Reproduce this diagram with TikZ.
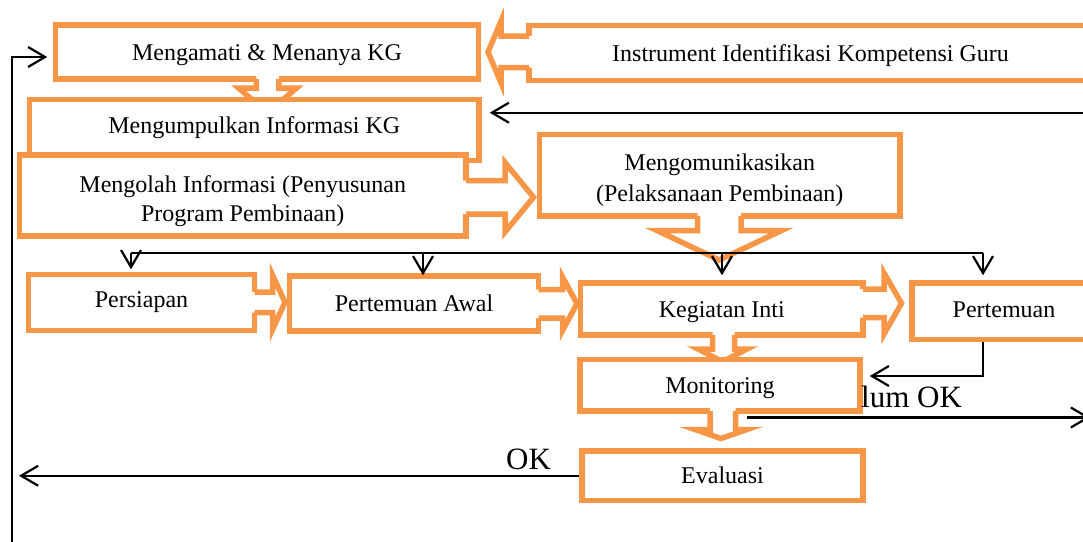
\documentclass[tikz,border=0pt]{standalone}
\usepackage{fontspec}
\setmainfont{Liberation Serif}
\usetikzlibrary{arrows.meta}
\definecolor{boxorange}{RGB}{247,150,70}
\begin{document}
\begin{tikzpicture}[x=1pt,y=-1pt,
  box/.style={draw=boxorange, line width=5.5pt, fill=white, inner sep=0pt, font=\fontsize{24}{28.5}\selectfont},
  oneline/.style={text height=16pt, text depth=0pt},
  bfill/.style={fill=white},
  bline/.style={draw=boxorange, line width=5.5pt},
  wire/.style={draw=black, line width=2.2pt},
  conn/.style={wire, -{Straight Barb[length=17pt,width=20pt]}},
  biglabel/.style={font=\fontsize{31}{31}\selectfont, inner sep=0pt, anchor=base west}]
\clip (0,0) rectangle (1083,541);

% top row
\node[box, oneline, minimum width=563pt, minimum height=55pt] (I) at (810.5,53) {Instrument Identifikasi Kompetensi Guru};
\node[box, oneline, minimum width=423pt, minimum height=54pt] (A) at (267,52) {Mengamati \& Menanya KG};
% Instrument -> A
\fill[bfill] (532,36) -- (501,36) -- (501,21) -- (488,52) -- (501,83) -- (501,67.5) -- (532,67.5) -- cycle;
\draw[bline] (529,36) -- (501,36) -- (501,21) -- (488,52) -- (501,83) -- (501,67.5) -- (529,67.5);
% A -> B
\fill[bfill] (256.25,76) -- (256.25,88) -- (238.5,88) -- (267.5,113) -- (296.5,88) -- (278.75,88) -- (278.75,76) -- cycle;
\draw[bline] (256.25,79) -- (256.25,88) -- (238.5,88) -- (267.5,113) -- (296.5,88) -- (278.75,88) -- (278.75,79);

\node[box, text height=12pt, text depth=5pt, minimum width=449.5pt, minimum height=61pt] (B) at (254.25,130) {Mengumpulkan Informasi KG};
\node[box, align=center, minimum width=446.5pt, minimum height=81pt] (C) at (242.75,195.5) {\rule{0pt}{28.5pt}Mengolah Informasi (Penyusunan\\Program Pembinaan)};
% C -> D
\fill[bfill] (463,180.5) -- (505,180.5) -- (505,162.5) -- (533.5,197.25) -- (505,232) -- (505,214) -- (463,214) -- cycle;
\draw[bline] (466,180.5) -- (505,180.5) -- (505,162.5) -- (533.5,197.25) -- (505,232) -- (505,214) -- (466,214);
\node[box, align=center, font=\fontsize{24}{30.7}\selectfont, minimum width=360.5pt, minimum height=81.5pt] (D) at (719.75,175.25) {\rule{0pt}{26.7pt}Mengomunikasikan\\(Pelaksanaan Pembinaan)};
% D down
\fill[bfill] (697.5,213) -- (697.5,230.5) -- (657,230.5) -- (719.25,260) -- (781.5,230.5) -- (741,230.5) -- (741,213) -- cycle;
\draw[bline] (697.5,216) -- (697.5,230.5) -- (657,230.5) -- (719.25,260) -- (781.5,230.5) -- (741,230.5) -- (741,216);

% second row
\node[box, text height=14pt, text depth=3.5pt, minimum width=226pt, minimum height=56pt] (P) at (141.5,302.5) {Persiapan};
\fill[bfill] (251.5,292) -- (272.5,292) -- (272.5,275) -- (285,302.25) -- (272.5,329.5) -- (272.5,312.5) -- (251.5,312.5) -- cycle;
\draw[bline] (254.5,292) -- (272.5,292) -- (272.5,275) -- (285,302.25) -- (272.5,329.5) -- (272.5,312.5) -- (254.5,312.5);
\node[box, oneline, minimum width=249pt, minimum height=55pt] (PA) at (414,303.5) {Pertemuan Awal};
\fill[bfill] (535.5,289.5) -- (562.5,289.5) -- (562.5,277) -- (577,303.75) -- (562.5,330.5) -- (562.5,318) -- (535.5,318) -- cycle;
\draw[bline] (538.5,289.5) -- (562.5,289.5) -- (562.5,277) -- (577,303.75) -- (562.5,330.5) -- (562.5,318) -- (538.5,318);
\node[box, oneline, minimum width=282.5pt, minimum height=52pt] (K) at (721.75,309) {Kegiatan Inti};
\fill[bfill] (860,289) -- (884,289) -- (884,273) -- (901.5,303.25) -- (884,334) -- (884,317.5) -- (860,317.5) -- cycle;
\draw[bline] (863,289) -- (884,289) -- (884,273) -- (901.5,303.25) -- (884,334) -- (884,317.5) -- (863,317.5);
\node[box, text height=14pt, text depth=2.5pt, minimum width=184pt, minimum height=56.5pt] (Pt) at (1004,311.25) {Pertemuan};

% K -> M
\fill[bfill] (712.5,332) -- (712.5,349) -- (698,349) -- (722.5,361.7) -- (747,349) -- (734.5,349) -- (734.5,332) -- cycle;
\draw[bline] (712.5,335) -- (712.5,349) -- (698,349) -- (722.5,361.7) -- (747,349) -- (734.5,349) -- (734.5,335);
\node[box, oneline, minimum width=280pt, minimum height=51.5pt] (M) at (720,385.25) {Monitoring};
% M -> E
\fill[bfill] (710,408) -- (710,429.5) -- (695,429.5) -- (721,438.5) -- (747,429.5) -- (735.5,429.5) -- (735.5,408) -- cycle;
\draw[bline] (710,411) -- (710,429.5) -- (695,429.5) -- (721,438.5) -- (747,429.5) -- (735.5,429.5) -- (735.5,411);
\node[box, oneline, minimum width=281pt, minimum height=49.5pt] (E) at (722.5,475.75) {Evaluasi};

% labels
\node[biglabel] (lbelum) at (861,407) {lum OK};
\node[biglabel] (lok) at (506,469) {OK};

% black connectors
\coordinate (lb) at (12,548);
\coordinate (le) at (19,0);
\coordinate (rb) at (1092,112.7);
\coordinate (bus1) at (131,252.7);
\coordinate (bus2) at (423,252.7);
\coordinate (bus3) at (722,252.7);
\coordinate (bus4) at (983,252.7);
\coordinate (pm) at (983,376);
\coordinate (mo) at (747,417.5);
\coordinate (mr) at (1090,417.5);

\draw[conn, shorten >=5.5pt] (lb) |- ([yshift=-5pt]A.west);
\draw[conn] (E.west) -- (E.west -| le);
\draw[conn, shorten >=8pt] (rb) -- (rb -| B.east);
\draw[wire] (bus1) -- (bus4);
\draw[conn, shorten >=2.5pt] (bus1) -- (bus1 |- P.north);
\draw[conn, shorten >=-2pt] (bus2) -- (bus2 |- PA.north);
\draw[conn, shorten >=5pt] (bus3) -- (bus3 |- K.north);
\draw[conn, shorten >=5pt] (bus4) -- (bus4 |- Pt.north);
\draw[conn, shorten >=7pt] (bus4 |- Pt.south) -- (pm) -- (pm -| M.east);
\draw[conn] (mo) -- (mr);
\end{tikzpicture}
\end{document}
